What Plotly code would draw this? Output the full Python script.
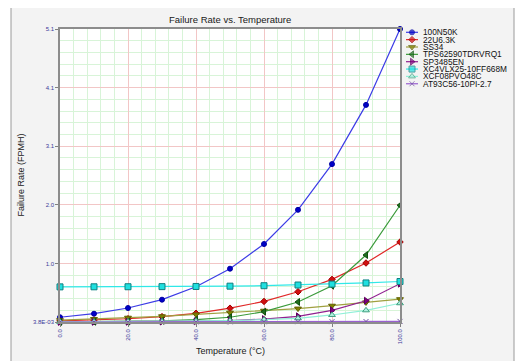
import plotly.graph_objects as go

# ---------------- data ----------------
temperature = [0, 10, 20, 30, 40, 50, 60, 70, 80, 90, 100]

r_100N50K = [0.086, 0.148, 0.247, 0.392, 0.618, 0.931, 1.36, 1.955, 2.75, 3.78, 5.1]
r_22U63K = [0.023, 0.037, 0.060, 0.097, 0.155, 0.244, 0.362, 0.530, 0.745, 1.03, 1.395]
r_SS34 = [0.035, 0.055, 0.078, 0.103, 0.135, 0.166, 0.200, 0.237, 0.287, 0.345, 0.400]
r_TPS = [0.005, 0.008, 0.014, 0.025, 0.045, 0.086, 0.183, 0.352, 0.635, 1.169, 2.034]
r_SP3485 = [0.0045, 0.006, 0.008, 0.012, 0.018, 0.030, 0.055, 0.103, 0.207, 0.374, 0.670]
r_XC4 = [0.615, 0.616, 0.617, 0.619, 0.622, 0.627, 0.635, 0.647, 0.663, 0.683, 0.708]
r_XCF = [0.006, 0.008, 0.011, 0.015, 0.020, 0.028, 0.044, 0.068, 0.126, 0.207, 0.330]
r_AT93 = [0.0038, 0.0042, 0.0046, 0.0052, 0.0058, 0.0066, 0.0076, 0.0088, 0.0102, 0.012, 0.014]

names = ["100N50K", "22U6.3K", "SS34", "TPS62590TDRVRQ1", "SP3485EN",
         "XC4VLX25-10FF668M", "XCF08PVO48C", "AT93C56-10PI-2.7"]
series = [r_100N50K, r_22U63K, r_SS34, r_TPS, r_SP3485, r_XC4, r_XCF, r_AT93]

x_ticks = [0, 20, 40, 60, 80, 100]
x_ticktext = ["0.0", "20.0", "40.0", "60.0", "80.0", "100.0"]
y_ticktext = ["3.8E-03", "1.0", "2.0", "3.1", "4.1", "5.1"]

# ---------------- styles ----------------
styles = [
    dict(line="#3c3ce6", mcolor="#0000c8", mline="#0000a0", symbol="circle", size=5),
    dict(line="#e02828", mcolor="#d01010", mline="#a00000", symbol="diamond", size=5),
    dict(line="#a0a040", mcolor="#808000", mline="#606000", symbol="triangle-down", size=6),
    dict(line="#3a9a3a", mcolor="#1e6e1e", mline="#105010", symbol="triangle-left", size=6),
    dict(line="#902090", mcolor="#800080", mline="#600060", symbol="triangle-right", size=6),
    dict(line="#30e8e8", mcolor="#20e0e0", mline="#108080", symbol="square", size=6),
    dict(line="#90f0d8", mcolor="#b0f0e0", mline="#40a080", symbol="triangle-up", size=6),
    dict(line="#9a60d0", mcolor="#7050a0", mline="#7050a0", symbol="x-thin", size=5),
]

W, H = 523, 361
OFF = 8  # page body margin: screen pixel = figure pixel + OFF

# layout positions in screen pixels
S_LEFT, S_TOP, S_BOTTOM, S_MAIN_RIGHT = 60, 29, 322, 400
S_PANEL = (11, 7, 514, 362)

L = S_LEFT - OFF
T = S_TOP - OFF
B = H - (S_BOTTOM - OFF)
R = W - (S_PANEL[2] - OFF)
PW = W - L - R
PH = H - T - B

def px_x(s):
    return (s - OFF - L) / PW

def px_y(s):
    return (H - B - (s - OFF)) / PH

ymin = min(min(s) for s in series)
ymax = max(max(s) for s in series)
y_tickvals = [ymin + i * (ymax - ymin) / 5 for i in range(6)]

FONT = "Liberation Sans, Arial, sans-serif"
tick_font = dict(family=FONT, size=6, color="#3a3a9a")
text_font = dict(family=FONT, size=9, color="#202020")

fig = go.Figure()

for name, vals, st in zip(names, series, styles):
    fig.add_trace(go.Scatter(
        x=temperature, y=vals, name=name, mode="lines+markers",
        line=dict(color=st["line"], width=1.2),
        marker=dict(symbol=st["symbol"], size=st["size"], color=st["mcolor"],
                    line=dict(color=st["mline"], width=1)),
        cliponaxis=False, showlegend=False, xaxis="x", yaxis="y"))

# compact legend on a helper subplot whose units are screen pixels
leg_y0, leg_dy = 32.3, 7.35
for i, (name, st) in enumerate(zip(names, styles)):
    yy = leg_y0 + i * leg_dy
    fig.add_trace(go.Scatter(
        x=[406, 412, 418], y=[yy, yy, yy], mode="lines+markers",
        line=dict(color=st["line"], width=1.2),
        marker=dict(symbol=st["symbol"], size=[0, st["size"], 0], color=st["mcolor"],
                    line=dict(color=st["mline"], width=1)),
        showlegend=False, hoverinfo="skip", xaxis="x2", yaxis="y2", cliponaxis=False))
    fig.add_annotation(x=421, y=yy, xref="x2", yref="y2", text=name, showarrow=False,
                       xanchor="left", yanchor="middle",
                       font=dict(family=FONT, size=8.3, color="#101010"))

fig.update_layout(
    width=W, height=H,
    margin=dict(l=L, r=R, t=T, b=B, pad=0),
    paper_bgcolor="white",
    plot_bgcolor="#f3f3f3",
    showlegend=False,
    xaxis=dict(
        domain=[0, px_x(S_MAIN_RIGHT)], range=[0, 100],
        tickmode="array", tickvals=x_ticks, ticktext=x_ticktext, tickangle=-90,
        tickfont=tick_font, ticks="outside", ticklen=3, tickcolor="#808080",
        showgrid=True, gridcolor="#f2c6c6", gridwidth=1,
        minor=dict(dtick=4, tick0=0, showgrid=True, gridcolor="#d8f4d8", gridwidth=1),
        showline=True, linecolor="#8c8c8c", linewidth=1.5, mirror=True,
        zeroline=False, fixedrange=True),
    yaxis=dict(
        domain=[0, 1], range=[ymin, ymax],
        tickmode="array", tickvals=y_tickvals, ticktext=y_ticktext,
        tickfont=tick_font, ticks="outside", ticklen=3, tickcolor="#808080",
        showgrid=True, gridcolor="#f2c6c6", gridwidth=1,
        minor=dict(tick0=ymin, dtick=(ymax - ymin) / 25, showgrid=True,
                   gridcolor="#d8f4d8", gridwidth=1),
        showline=True, linecolor="#8c8c8c", linewidth=1.5, mirror=True,
        zeroline=False, fixedrange=True),
    xaxis2=dict(domain=[px_x(402), 1], range=[402, S_PANEL[2]], visible=False,
                anchor="y2", fixedrange=True),
    yaxis2=dict(domain=[0, 1], range=[S_BOTTOM, S_TOP], visible=False,
                anchor="x2", fixedrange=True),
)

# grey outer panel and white plotting area
fig.add_shape(type="rect", xref="paper", yref="paper",
              x0=px_x(S_PANEL[0]), x1=px_x(S_PANEL[2]),
              y0=px_y(S_PANEL[3]), y1=px_y(S_PANEL[1]),
              fillcolor="#f3f3f3", line=dict(color="#9a9a9a", width=1), layer="below")
fig.add_shape(type="rect", xref="x domain", yref="y domain", x0=0, x1=1, y0=0, y1=1,
              fillcolor="white", line=dict(width=0), layer="below")

# title and axis titles
fig.add_annotation(text="Failure Rate vs. Temperature", xref="paper", yref="paper",
                   x=px_x((S_LEFT + S_MAIN_RIGHT) / 2), y=px_y(19.5), showarrow=False,
                   xanchor="center", yanchor="middle",
                   font=dict(family=FONT, size=9.5, color="#202020"))
fig.add_annotation(text="Failure Rate (FPMH)", xref="paper", yref="paper",
                   x=px_x(20), y=0.5, textangle=-90, showarrow=False,
                   xanchor="center", yanchor="middle", font=text_font)
fig.add_annotation(text="Temperature (°C)", xref="paper", yref="paper",
                   x=px_x((S_LEFT + S_MAIN_RIGHT) / 2), y=px_y(351), showarrow=False,
                   xanchor="center", yanchor="middle", font=text_font)

fig.write_html("out.html")
